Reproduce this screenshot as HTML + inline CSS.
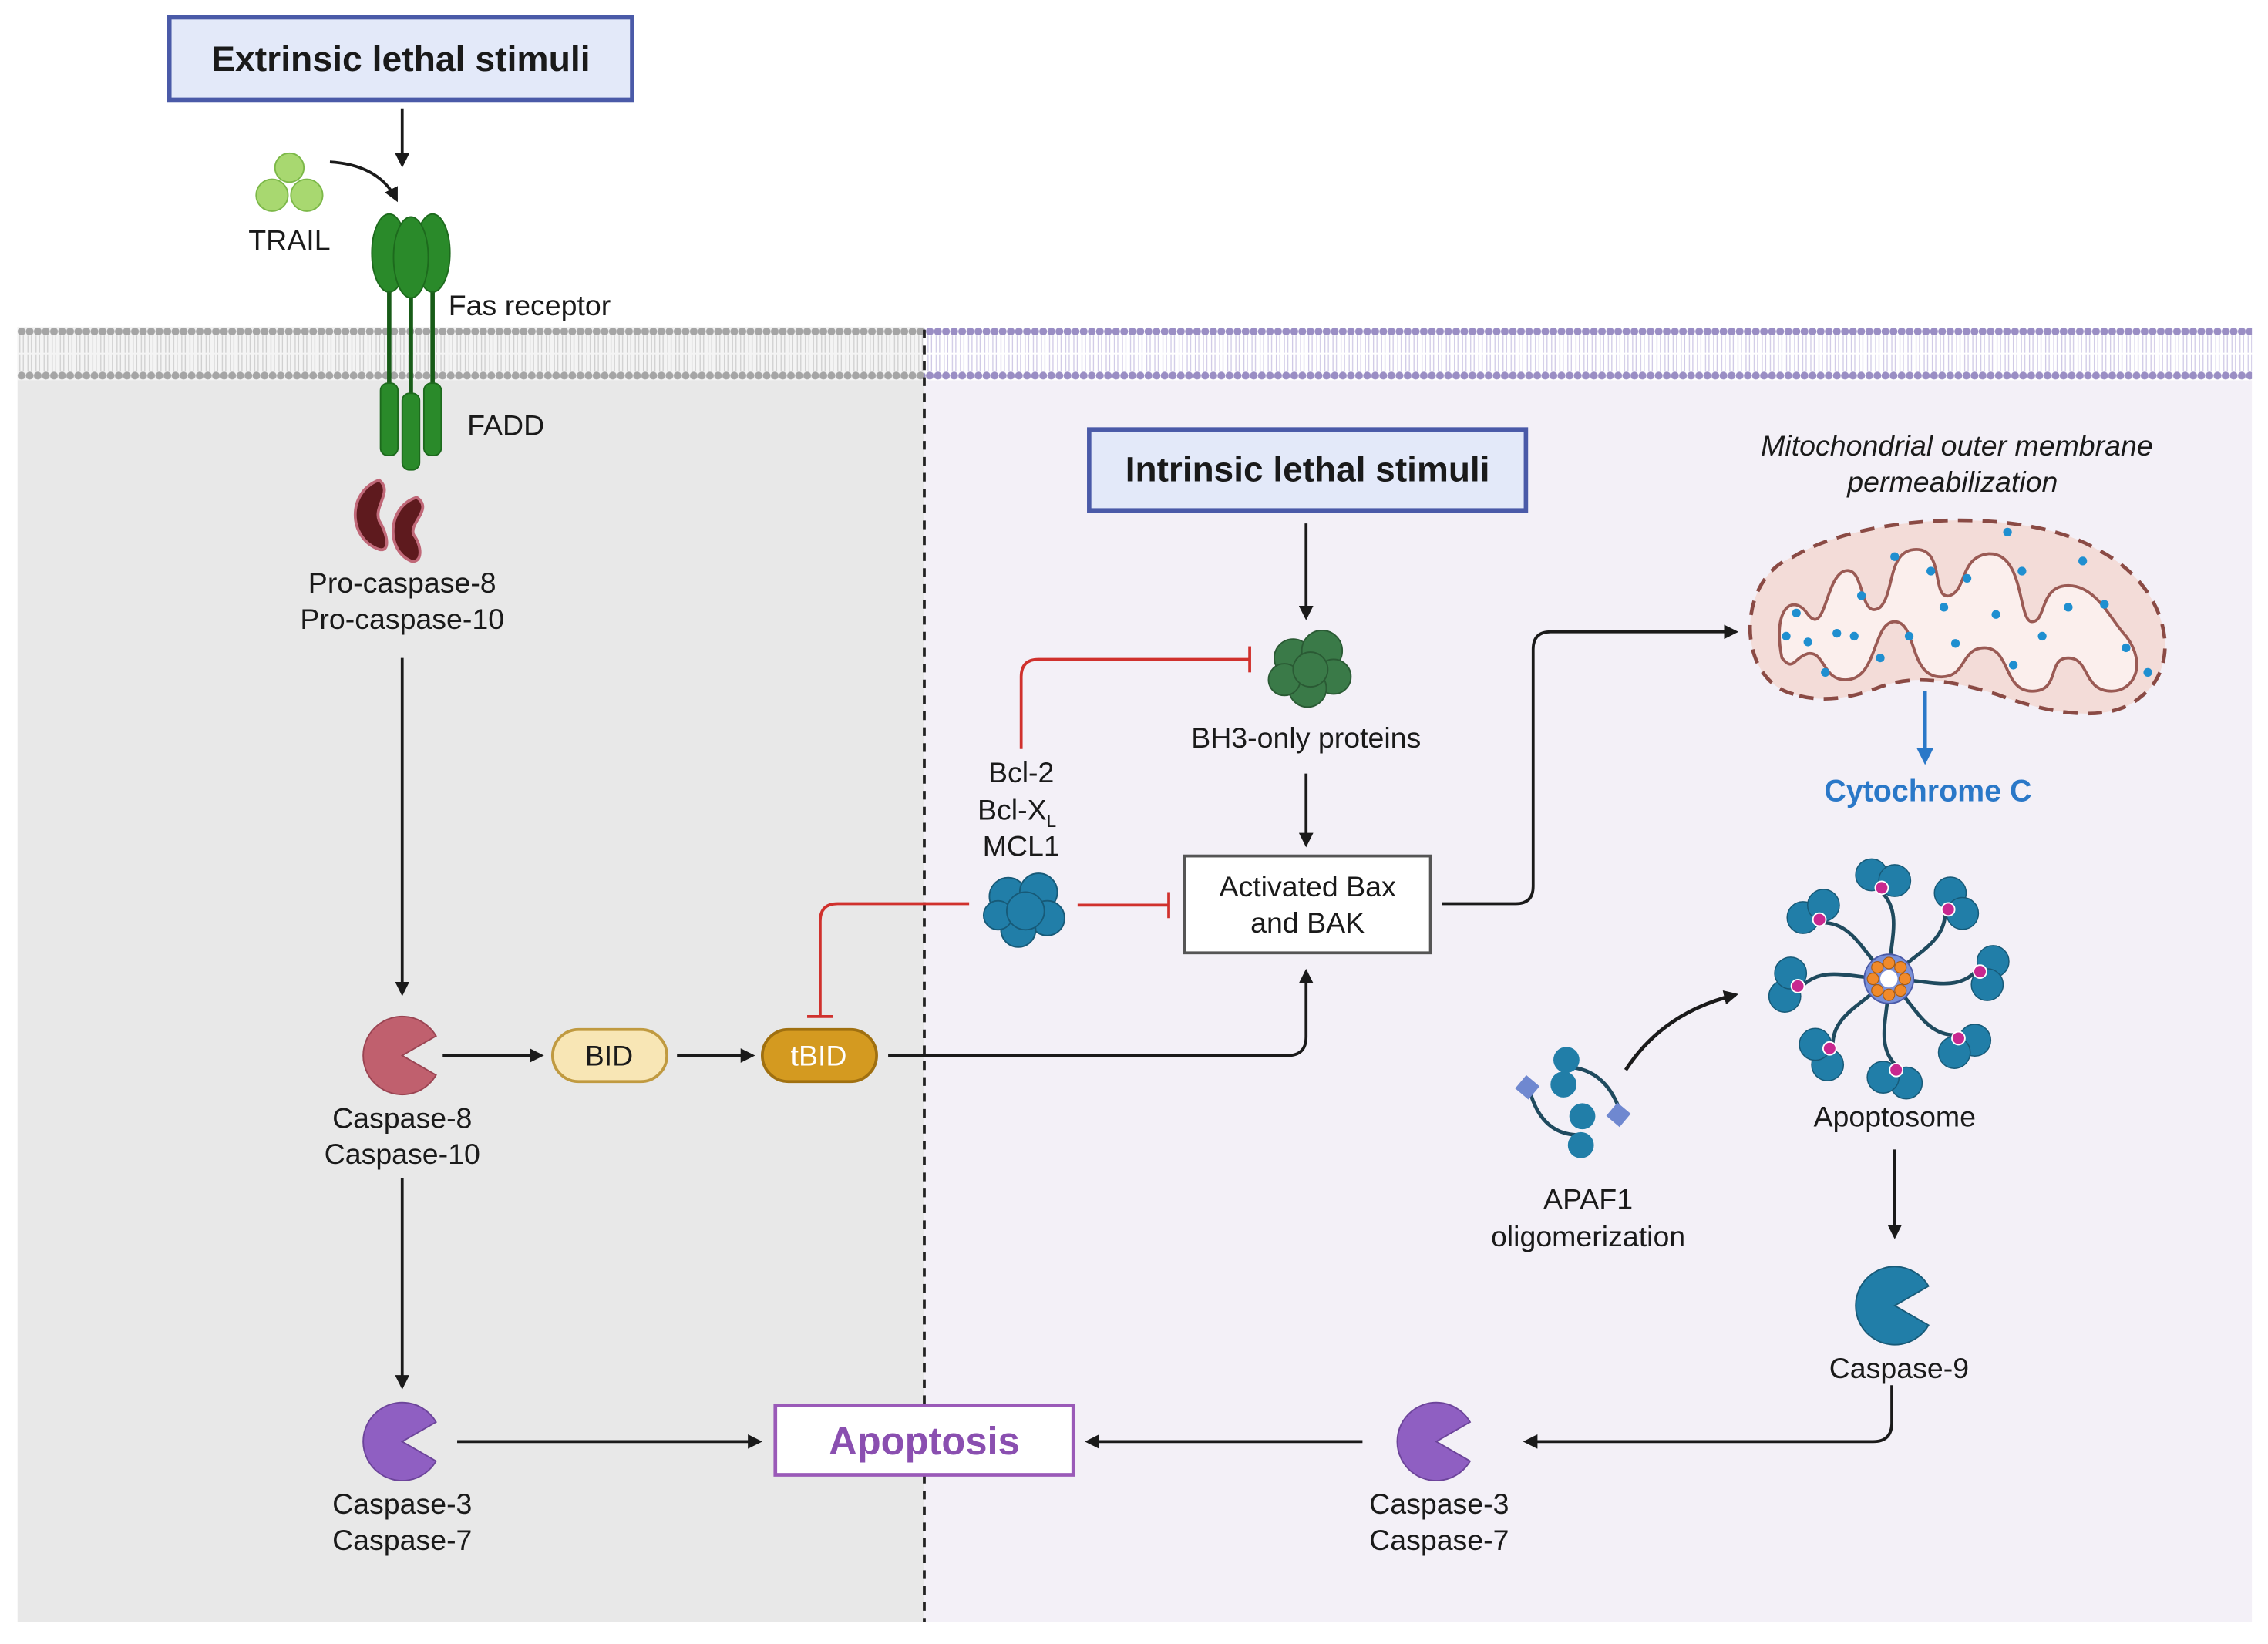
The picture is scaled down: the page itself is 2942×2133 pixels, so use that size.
<!DOCTYPE html>
<html><head><meta charset="utf-8"><style>
html,body{margin:0;padding:0;background:#fff}
svg{display:block}
text{font-family:"Liberation Sans",sans-serif;fill:#1a1a1a}
</style></head><body>
<svg width="2942" height="2133" viewBox="0 0 1568 1137" xmlns="http://www.w3.org/2000/svg">
<defs>
<marker id="ah" markerWidth="10" markerHeight="10" refX="8" refY="5" orient="auto" markerUnits="userSpaceOnUse"><path d="M0,0 L10,5 L0,10 Z" fill="#1a1a1a"/></marker>
<marker id="ahb" markerWidth="12" markerHeight="12" refX="9" refY="6" orient="auto" markerUnits="userSpaceOnUse"><path d="M0,0 L12,6 L0,12 Z" fill="#2a78c8"/></marker>
<pattern id="dg" width="5.6" height="37" patternUnits="userSpaceOnUse" x="12" y="226">
<circle cx="2.8" cy="3.2" r="2.7" fill="#a5a5a5"/><circle cx="2.8" cy="33.8" r="2.7" fill="#a5a5a5"/>
<path d="M1.6,6 L1.6,18 M4,6 L4,18 M1.6,19 L1.6,31 M4,19 L4,31" stroke="#cfcfcf" stroke-width="0.7"/></pattern>
<pattern id="dp" width="5.6" height="37" patternUnits="userSpaceOnUse" x="640" y="226">
<circle cx="2.8" cy="3.2" r="2.7" fill="#9a8ec4"/><circle cx="2.8" cy="33.8" r="2.7" fill="#9a8ec4"/>
<path d="M1.6,6 L1.6,18 M4,6 L4,18 M1.6,19 L1.6,31 M4,19 L4,31" stroke="#d0cae6" stroke-width="0.7"/></pattern>
<g id="arm"><path d="M0,0 C0,-25 10,-45 -5,-60" stroke="#1f4a5e" stroke-width="2.5" fill="none"/>
<circle cx="-12" cy="-72" r="11" fill="#217ea8" stroke="#175a78" stroke-width="0.8"/><circle cx="4" cy="-68" r="11" fill="#217ea8" stroke="#175a78" stroke-width="0.8"/><circle cx="-5" cy="-63" r="4.5" fill="#c8288f" stroke="#fff" stroke-width="1"/></g>
</defs>

<rect x="12" y="226" width="627" height="896" fill="#e8e8e8"/>
<rect x="639" y="226" width="918" height="896" fill="#f3f0f7"/>
<rect x="12" y="226" width="627" height="37" fill="#f4f4f4"/>
<rect x="639" y="226" width="918" height="37" fill="#fff"/>
<rect x="12" y="226" width="627" height="37" fill="url(#dg)"/>
<rect x="639" y="226" width="918" height="37" fill="url(#dp)"/>
<line x1="639" y1="228" x2="639" y2="1122" stroke="#222" stroke-width="2" stroke-dasharray="6,5"/>

<rect x="117" y="12" width="320" height="57" fill="#e3e9f9" stroke="#4a5aa8" stroke-width="3"/>
<text x="277" y="49" font-size="24" font-weight="bold" text-anchor="middle" textLength="262" lengthAdjust="spacingAndGlyphs">Extrinsic lethal stimuli</text>
<line x1="278" y1="75" x2="278" y2="114" stroke="#1a1a1a" stroke-width="2" marker-end="url(#ah)"/>
<g fill="#a8d870" stroke="#7cb848" stroke-width="1"><circle cx="200" cy="116" r="10"/><circle cx="188" cy="135" r="11"/><circle cx="212" cy="135" r="11"/></g>
<text x="200" y="173" font-size="20" text-anchor="middle">TRAIL</text>
<path d="M228,112 Q262,114 274,138" stroke="#1a1a1a" stroke-width="2" fill="none" marker-end="url(#ah)"/>
<g stroke="#185c18" stroke-width="3"><line x1="269" y1="195" x2="269" y2="270"/><line x1="284" y1="195" x2="284" y2="280"/><line x1="299" y1="195" x2="299" y2="270"/></g>
<g fill="#2a8a2a" stroke="#1d6a1d" stroke-width="1"><ellipse cx="269" cy="175" rx="12" ry="27"/><ellipse cx="299" cy="175" rx="12" ry="27"/><ellipse cx="284" cy="178" rx="12" ry="28"/>
<rect x="263" y="265" width="12" height="50" rx="5"/><rect x="293" y="265" width="12" height="50" rx="5"/><rect x="278" y="272" width="12" height="53" rx="5"/></g>
<text x="310" y="218" font-size="20">Fas receptor</text>
<text x="323" y="301" font-size="20">FADD</text>
<g fill="#5e1a1e" stroke="#c06878" stroke-width="2"><path d="M262,332 C240,340 240,372 262,380 C270,382 268,370 262,360 C258,350 272,340 262,332Z"/><path d="M288,344 C268,350 266,380 284,388 C292,390 292,378 286,370 C282,362 300,352 288,344Z"/></g>
<text x="278" y="410" font-size="20" text-anchor="middle">Pro-caspase-8</text>
<text x="278" y="435" font-size="20" text-anchor="middle">Pro-caspase-10</text>
<line x1="278" y1="455" x2="278" y2="687" stroke="#1a1a1a" stroke-width="2" marker-end="url(#ah)"/>

<path d="M278,730 L301.4,716.5 A27,27 0 1 0 301.4,743.5 Z" fill="#c0606e" stroke="#9a4452" stroke-width="1"/>
<text x="278" y="780" font-size="20" text-anchor="middle">Caspase-8</text>
<text x="278" y="805" font-size="20" text-anchor="middle">Caspase-10</text>
<line x1="306" y1="730" x2="374" y2="730" stroke="#1a1a1a" stroke-width="2" marker-end="url(#ah)"/>
<rect x="382" y="712" width="79" height="36" rx="18" fill="#f8e6b5" stroke="#c09a40" stroke-width="2"/>
<text x="421" y="737" font-size="20" text-anchor="middle">BID</text>
<line x1="468" y1="730" x2="520" y2="730" stroke="#1a1a1a" stroke-width="2" marker-end="url(#ah)"/>
<rect x="527" y="712" width="79" height="36" rx="18" fill="#d49a20" stroke="#a07010" stroke-width="2"/>
<text x="566" y="737" font-size="20" text-anchor="middle" style="fill:#fff">tBID</text>
<path d="M614,730 L890,730 Q903,730 903,717 L903,672" stroke="#1a1a1a" stroke-width="2" fill="none" marker-end="url(#ah)"/>
<line x1="278" y1="815" x2="278" y2="959" stroke="#1a1a1a" stroke-width="2" marker-end="url(#ah)"/>

<path d="M278,997 L301.4,983.5 A27,27 0 1 0 301.4,1010.5 Z" fill="#8f5fc2" stroke="#6c449a" stroke-width="1"/>
<text x="278" y="1047" font-size="20" text-anchor="middle">Caspase-3</text>
<text x="278" y="1072" font-size="20" text-anchor="middle">Caspase-7</text>
<line x1="316" y1="997" x2="525" y2="997" stroke="#1a1a1a" stroke-width="2" marker-end="url(#ah)"/>
<rect x="536" y="972" width="206" height="48" fill="#fff" stroke="#9a5ab8" stroke-width="2.5"/>
<text x="639" y="1006" font-size="27" font-weight="bold" text-anchor="middle" style="fill:#8a4fb0">Apoptosis</text>
<line x1="942" y1="997" x2="752" y2="997" stroke="#1a1a1a" stroke-width="2" marker-end="url(#ah)"/>
<path d="M993,997 L1016.4,983.5 A27,27 0 1 0 1016.4,1010.5 Z" fill="#8f5fc2" stroke="#6c449a" stroke-width="1"/>
<text x="995" y="1047" font-size="20" text-anchor="middle">Caspase-3</text>
<text x="995" y="1072" font-size="20" text-anchor="middle">Caspase-7</text>
<path d="M1308,958 L1308,984 Q1308,997 1295,997 L1055,997" stroke="#1a1a1a" stroke-width="2" fill="none" marker-end="url(#ah)"/>

<path d="M1310,903 L1333.4,889.5 A27,27 0 1 0 1333.4,916.5 Z" fill="#217ea8" stroke="#175a78" stroke-width="1"/>
<text x="1313" y="953" font-size="20" text-anchor="middle">Caspase-9</text>
<line x1="1310" y1="795" x2="1310" y2="855" stroke="#1a1a1a" stroke-width="2" marker-end="url(#ah)"/>

<g transform="translate(1306,677)">
<use href="#arm" transform="rotate(0)"/><use href="#arm" transform="rotate(45)"/><use href="#arm" transform="rotate(90)"/><use href="#arm" transform="rotate(135)"/>
<use href="#arm" transform="rotate(180)"/><use href="#arm" transform="rotate(225)"/><use href="#arm" transform="rotate(270)"/><use href="#arm" transform="rotate(315)"/>
<circle r="17" fill="#7a90d8" stroke="#4a5aa8" stroke-width="1"/>
<g fill="#f08a2a" stroke="#a85a10" stroke-width="0.6"><circle cx="0" cy="-11" r="4"/><circle cx="8" cy="-8" r="4"/><circle cx="11" cy="0" r="4"/><circle cx="8" cy="8" r="4"/><circle cx="0" cy="11" r="4"/><circle cx="-8" cy="8" r="4"/><circle cx="-11" cy="0" r="4"/><circle cx="-8" cy="-8" r="4"/></g>
<circle r="6" fill="#fff"/>
</g>
<text x="1310" y="779" font-size="20" text-anchor="middle">Apoptosome</text>

<g>
<path d="M1057,752 Q1065,785 1092,785 M1120,768 Q1110,740 1085,738" stroke="#1f4a5e" stroke-width="2.5" fill="none"/>
<rect x="1050" y="746" width="12" height="12" fill="#6f88d0" transform="rotate(40 1056 752)"/>
<rect x="1113" y="765" width="12" height="12" fill="#6f88d0" transform="rotate(40 1119 771)"/>
<g fill="#217ea8"><circle cx="1083" cy="733" r="9"/><circle cx="1081" cy="750" r="9"/><circle cx="1094" cy="772" r="9"/><circle cx="1093" cy="792" r="9"/></g>
</g>
<text x="1098" y="836" font-size="20" text-anchor="middle">APAF1</text>
<text x="1098" y="862" font-size="20" text-anchor="middle">oligomerization</text>
<path d="M1124,740 Q1150,700 1200,688" stroke="#1a1a1a" stroke-width="2.5" fill="none" marker-end="url(#ah)"/>

<rect x="753" y="297" width="302" height="56" fill="#e3e9f9" stroke="#4a5aa8" stroke-width="3"/>
<text x="904" y="333" font-size="24" font-weight="bold" text-anchor="middle" textLength="252" lengthAdjust="spacingAndGlyphs">Intrinsic lethal stimuli</text>
<line x1="903" y1="362" x2="903" y2="427" stroke="#1a1a1a" stroke-width="2" marker-end="url(#ah)"/>
<g fill="#3a7a48" stroke="#2a5a34" stroke-width="1"><circle cx="894" cy="455" r="13"/><circle cx="914" cy="450" r="14"/><circle cx="922" cy="468" r="12"/><circle cx="904" cy="476" r="13"/><circle cx="888" cy="470" r="11"/><circle cx="906" cy="463" r="12"/></g>
<text x="903" y="517" font-size="20" text-anchor="middle">BH3-only proteins</text>
<line x1="903" y1="535" x2="903" y2="584" stroke="#1a1a1a" stroke-width="2" marker-end="url(#ah)"/>
<rect x="819" y="592" width="170" height="67" fill="#fff" stroke="#555" stroke-width="2"/>
<text x="904" y="620" font-size="20" text-anchor="middle">Activated Bax</text>
<text x="904" y="645" font-size="20" text-anchor="middle">and BAK</text>
<path d="M997,625 L1048,625 Q1060,625 1060,613 L1060,449 Q1060,437 1072,437 L1200,437" stroke="#1a1a1a" stroke-width="2" fill="none" marker-end="url(#ah)"/>

<text x="706" y="541" font-size="20" text-anchor="middle">Bcl-2</text>
<text x="703" y="567" font-size="20" text-anchor="middle">Bcl-X<tspan font-size="12" dy="5">L</tspan></text>
<text x="706" y="592" font-size="20" text-anchor="middle">MCL1</text>
<g fill="#217ea8" stroke="#175a78" stroke-width="1"><circle cx="697" cy="620" r="13"/><circle cx="718" cy="617" r="13"/><circle cx="724" cy="635" r="12"/><circle cx="704" cy="643" r="12"/><circle cx="690" cy="633" r="10"/><circle cx="709" cy="630" r="13"/></g>
<g stroke="#d0312d" stroke-width="2" fill="none">
<path d="M706,518 L706,468 Q706,456 718,456 L864,456"/><line x1="864" y1="447" x2="864" y2="465"/>
<line x1="745" y1="626" x2="808" y2="626"/><line x1="808" y1="617" x2="808" y2="635"/>
<path d="M670,625 L579,625 Q567,625 567,637 L567,703"/><line x1="558" y1="703" x2="576" y2="703"/>
</g>

<text x="1353" y="315" font-size="20" font-style="italic" text-anchor="middle">Mitochondrial outer membrane</text>
<text x="1350" y="340" font-size="20" font-style="italic" text-anchor="middle">permeabilization</text>
<path d="M1240,480 C1200,470 1200,400 1240,385 C1290,355 1400,350 1450,380 C1500,405 1510,460 1480,482 C1460,500 1420,495 1380,480 C1340,468 1320,468 1300,475 C1275,485 1255,485 1240,480Z" fill="#f3dcd8" stroke="#8a4a44" stroke-width="2.5" stroke-dasharray="10,7"/>
<path d="M1232,455 C1225,420 1240,410 1250,425 C1262,440 1262,400 1275,395 C1290,390 1285,430 1300,420 C1310,410 1305,380 1325,380 C1345,380 1335,415 1348,412 C1360,408 1355,385 1375,383 C1400,382 1395,430 1405,430 C1415,430 1410,405 1430,405 C1450,405 1460,430 1470,440 C1485,460 1475,478 1460,478 C1440,478 1445,455 1430,455 C1415,455 1425,478 1405,478 C1385,478 1390,448 1372,448 C1355,448 1360,470 1340,468 C1320,466 1325,430 1310,430 C1295,430 1298,468 1278,470 C1260,472 1262,450 1250,452 C1240,455 1240,465 1232,455Z" fill="#fbefed" stroke="#9a5a54" stroke-width="2"/>
<g fill="#1f8fd0">
<circle cx="1242" cy="424" r="3"/><circle cx="1250" cy="444" r="3"/><circle cx="1270" cy="438" r="3"/><circle cx="1287" cy="412" r="3"/><circle cx="1300" cy="455" r="3"/><circle cx="1320" cy="440" r="3"/><circle cx="1344" cy="420" r="3"/><circle cx="1360" cy="400" r="3"/><circle cx="1380" cy="425" r="3"/><circle cx="1398" cy="395" r="3"/><circle cx="1412" cy="440" r="3"/><circle cx="1430" cy="420" r="3"/><circle cx="1455" cy="418" r="3"/><circle cx="1470" cy="448" r="3"/><circle cx="1335" cy="395" r="3"/><circle cx="1310" cy="385" r="3"/><circle cx="1282" cy="440" r="3"/><circle cx="1262" cy="465" r="3"/><circle cx="1352" cy="445" r="3"/><circle cx="1392" cy="460" r="3"/><circle cx="1440" cy="388" r="3"/><circle cx="1485" cy="465" r="3"/><circle cx="1388" cy="368" r="3"/><circle cx="1235" cy="440" r="3"/>
</g>
<line x1="1331" y1="478" x2="1331" y2="526" stroke="#2a78c8" stroke-width="2.5" marker-end="url(#ahb)"/>
<text x="1333" y="554" font-size="21" font-weight="bold" text-anchor="middle" style="fill:#2a78c8">Cytochrome C</text>
</svg>
</body></html>
